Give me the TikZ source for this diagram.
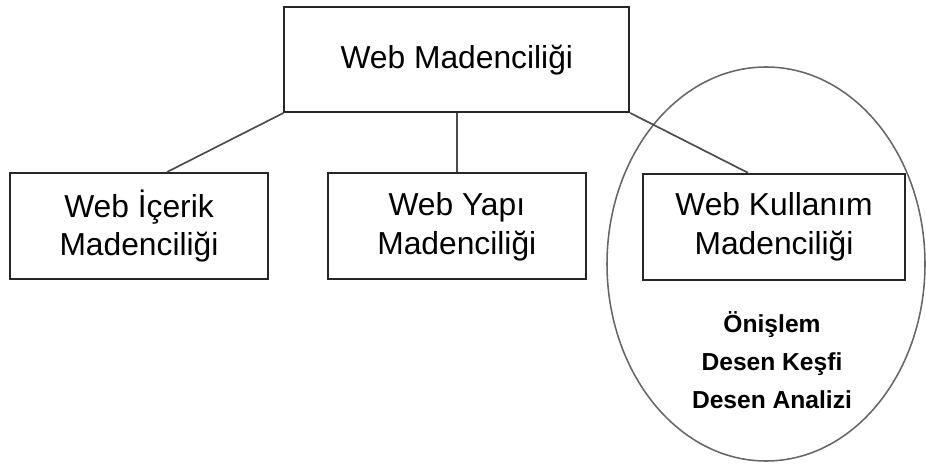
\documentclass[tikz,border=0pt]{standalone}
\usepackage{fontspec}
\setmainfont{Liberation Sans}
\tikzset{
	kutu/.style={draw=black!85, line width=1.4pt, minimum width=6.5cm, minimum height=2.65cm, align=center, font=\fontsize{22.6}{27.6}\selectfont},
	bag/.style={draw=black!70, line width=1.2pt},
}
\begin{document}
\begin{tikzpicture}
	\useasboundingbox (0,0) rectangle (23.15,11.6);
	
	\draw [black!60, line width=1.1pt] (19.15,5.0) ellipse (3.975cm and 4.925cm);
	
	\node [kutu, minimum width=8.62cm, minimum height=2.62cm] (ana) at (11.42,10.11) {Web Madenciliği};
	\node [kutu, minimum width=6.45cm] (icerik) at (3.475,5.95) {Web İçerik\\Madenciliği};
	\node [kutu, minimum width=6.45cm] (yapi) at (11.42,5.94) {Web Yapı\\Madenciliği};
	\node [kutu, minimum width=6.55cm] (kullanim) at (19.35,5.93) {Web Kullanım\\Madenciliği};
	
	\node [align=center, font=\bfseries\fontsize{17.5}{27}\selectfont] (adimlar) at (19.3,2.6) {Önişlem\\Desen Keşfi\\Desen Analizi};
	
	\draw [bag] (ana.south west) -- ([xshift=0.7cm]icerik.north);
	\draw [bag] (ana.south) -- (yapi.north);
	\draw [bag] (ana.south east) -- ([xshift=-0.65cm]kullanim.north);
\end{tikzpicture}
\end{document}
